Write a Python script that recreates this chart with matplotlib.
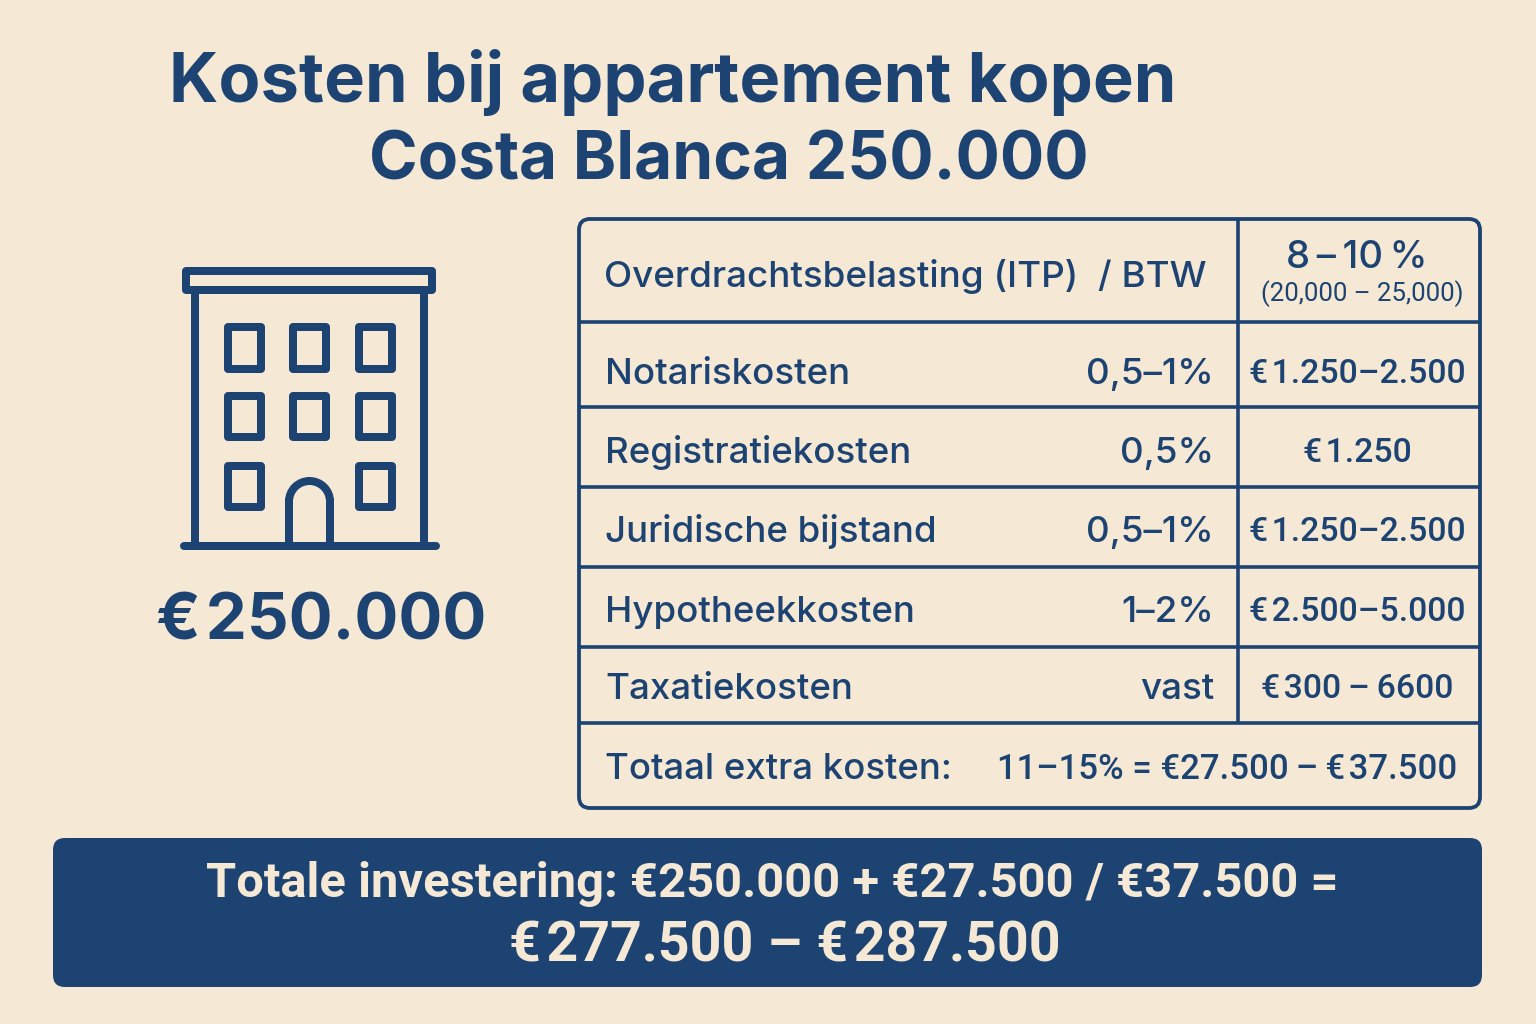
import matplotlib
matplotlib.use("Agg")
from matplotlib import pyplot as plt
from matplotlib.patches import FancyBboxPatch, Rectangle, Arc

NAVY = "#1c4372"
CREAM = "#f5e9d5"

title_lines = ["Kosten bij appartement kopen", "Costa Blanca 250.000"]
price_label = "€\u200a250.000"

row_labels = ["Notariskosten", "Registratiekosten", "Juridische bijstand", "Hypotheekkosten", "Taxatiekosten"]
row_rates = ["0,5–1%", "0,5%", "0,5–1%", "1–2%", "vast"]
row_amounts = ["€\u200a1.250–2.500", "€\u200a1.250", "€\u200a1.250–2.500", "€\u200a2.500–5.000", "€\u200a300\u2009–\u20096600"]

header_label = "Overdrachtsbelasting (ITP)  / BTW"
header_rate = "8\u2009–\u200910\u2009%"
header_amount = "(20,000 – 25,000)"

total_label = "Totaal extra kosten:"
total_value = "11–15% = €27.500\u2009–\u2009€\u200a37.500"

banner_lines = ["Totale investering: €250.000 + €27.500 / €37.500 =", "€\u200a277.500 – €\u200a287.500"]

plt.rcParams["font.family"] = ["Inter", "DejaVu Sans"]
NARROW = ["Roboto", "DejaVu Sans"]

fig = plt.figure(figsize=(15.36, 10.24), dpi=100, facecolor=CREAM)
ax = fig.add_axes([0, 0, 1, 1])
ax.set_xlim(0, 1536)
ax.set_ylim(1024, 0)
ax.axis("off")

# px line width to points
LW = 0.72


def box(x0, y0, x1, y1, rad, **kw):
    p = FancyBboxPatch((x0 + rad, y0 + rad), x1 - x0 - 2 * rad, y1 - y0 - 2 * rad,
                       boxstyle=f"round,pad={rad},rounding_size={rad}", **kw)
    ax.add_patch(p)


# title
ax.text(169, 102, title_lines[0], fontsize=49.4, fontweight="bold", color=NAVY, va="baseline")
ax.text(369, 179, title_lines[1], fontsize=47.4, fontweight="bold", color=NAVY, va="baseline")

# building icon
icon_w = 8 * LW
ax.add_patch(Rectangle((186, 271), 246, 19, fill=False, ec=NAVY, lw=icon_w, joinstyle="round"))
ax.plot([195, 195], [290, 546], color=NAVY, lw=icon_w)
ax.plot([424, 424], [290, 546], color=NAVY, lw=icon_w)
ax.plot([184, 436], [546, 546], color=NAVY, lw=8 * LW, solid_capstyle="round")
for wx in [228, 293, 359]:
    for wy, wh in [(327, 42), (396, 41), (466, 41)]:
        if wx == 293 and wy == 466:
            continue
        ax.add_patch(Rectangle((wx, wy), 33, wh, fill=False, ec=NAVY, lw=icon_w, joinstyle="round"))
ax.add_patch(Arc((309.5, 501.5), 41, 41, theta1=180, theta2=360, ec=NAVY, lw=icon_w))
ax.plot([289, 289], [501.5, 546], color=NAVY, lw=icon_w)
ax.plot([330, 330], [501.5, 546], color=NAVY, lw=icon_w)

ax.text(156, 639, price_label, fontsize=47, fontweight="bold", color=NAVY, va="baseline")

# table frame
box(579, 219, 1480, 808, 11, fc="none", ec=NAVY, lw=3.8 * LW)
for y in [322, 407, 487, 567, 647, 723]:
    ax.plot([579, 1480], [y, y], color=NAVY, lw=3.6 * LW, solid_capstyle="butt")
ax.plot([1238, 1238], [219, 723], color=NAVY, lw=3.6 * LW, solid_capstyle="butt")

# header row
ax.text(604, 287, header_label, fontsize=26.5, fontweight="medium", color=NAVY, va="baseline")
ax.text(1357, 268, header_rate, fontsize=27.5, fontweight="medium", color=NAVY, va="baseline", ha="center")
ax.text(1362, 301, header_amount, fontsize=18.5, family=NARROW, color=NAVY, va="baseline", ha="center")

# cost rows
row_base = [384, 463, 542, 622, 699]
for label, rate, amount, yb in zip(row_labels, row_rates, row_amounts, row_base):
    ax.text(605, yb, label, fontsize=26.4, fontweight="medium", color=NAVY, va="baseline")
    ax.text(1214, yb, rate, fontsize=26.5, fontweight="medium", color=NAVY, va="baseline", ha="right")
    ax.text(1357, yb - 1, amount, fontsize=24.3, family=NARROW, fontweight="medium", color=NAVY, va="baseline", ha="center")

# total row
ax.text(605, 779, total_label, fontsize=26.3, fontweight="medium", color=NAVY, va="baseline")
ax.text(1457, 779, total_value, fontsize=25, family=NARROW, fontweight="medium", color=NAVY, va="baseline", ha="right")

# banner
box(53, 838, 1482, 987, 12, fc=NAVY, ec="none")
ax.text(772, 897, banner_lines[0], fontsize=35.2, family=NARROW, fontweight="bold", color=CREAM, va="baseline", ha="center")
ax.text(785, 961, banner_lines[1], fontsize=40, family=NARROW, fontweight="bold", color=CREAM, va="baseline", ha="center")

fig.savefig("out.png", dpi=100, facecolor=CREAM)
